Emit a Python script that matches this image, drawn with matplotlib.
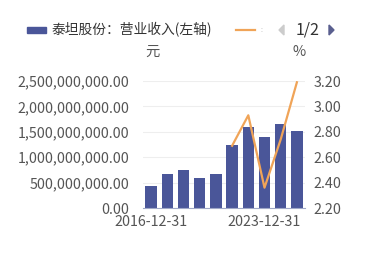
import numpy as np
import matplotlib
matplotlib.use("Agg")
import matplotlib.pyplot as plt
from matplotlib.lines import Line2D
from matplotlib.patches import Rectangle, Polygon
from matplotlib.ticker import FuncFormatter

plt.rcParams['font.family'] = ['Noto Sans CJK SC', 'DejaVu Sans']

# data
dates = ['2016-12-31', '2017-12-31', '2018-12-31', '2019-12-31', '2020-12-31',
         '2021-12-31', '2022-12-31', '2023-12-31', '2024-12-31', '2025-12-31']
revenue = [4.39e8, 6.74e8, 7.40e8, 5.89e8, 6.74e8,
           1.244e9, 1.604e9, 1.401e9, 1.663e9, 1.518e9]
ratio = [np.nan, np.nan, np.nan, np.nan, np.nan,
         2.69, 2.93, 2.36, 2.74, 3.19]
shown_ticks = ['2016-12-31', '2023-12-31']
bar_label = '泰坦股份：营业收入(左轴)'

bar_color = '#4a5699'
line_color = '#f0a458'
text_color = '#555555'
fs = 10.3

fig = plt.figure(figsize=(3.69, 2.76), dpi=100)
ax = fig.add_axes([143 / 369, 1 - 208 / 276, 162 / 369, 127 / 276])
ax2 = ax.twinx()

x = np.arange(len(dates))
ax.bar(x, revenue, width=0.7, color=bar_color, zorder=2)
ax2.plot(x, ratio, color=line_color, lw=1.6, zorder=3)

ax.set_xlim(-0.5, len(dates) - 0.5)
ax.set_ylim(0, 2.5e9)
ax.set_yticks(np.arange(0, 2.5e9 + 1, 5e8))
ax.yaxis.set_major_formatter(FuncFormatter(lambda v, p: '{:,.2f}'.format(v)))
ax2.set_ylim(2.2, 3.2)
ax2.set_yticks(np.arange(2.2, 3.21, 0.2))
ax2.yaxis.set_major_formatter(FuncFormatter(lambda v, p: '{:.2f}'.format(v)))

ax.set_xticks([dates.index(d) for d in shown_ticks])
ax.set_xticklabels(shown_ticks)

ax.grid(axis='y', color='#eeeeee', lw=0.8, zorder=0)
ax.set_axisbelow(True)
for a in (ax, ax2):
    for s in a.spines.values():
        s.set_visible(False)
    a.tick_params(length=0, labelsize=fs, labelcolor=text_color)
ax.spines['bottom'].set_visible(True)
ax.spines['bottom'].set_color('#a0a8c8')
ax.tick_params(axis='y', pad=10)
ax.tick_params(axis='x', pad=5)
ax2.tick_params(axis='y', pad=6)

# legend drawn by hand
fig.patches.append(Rectangle((27 / 369, 1 - 33 / 276), 19 / 369, 6 / 276,
                             transform=fig.transFigure, color=bar_color))
fig.text(51 / 369, 1 - 30 / 276, bar_label, fontsize=9.9, color='#333333', va='center')
fig.lines.append(Line2D([236 / 369, 255 / 369], [1 - 30 / 276, 1 - 30 / 276],
                        transform=fig.transFigure, color=line_color, lw=1.6))
fig.text(260 / 369, 1 - 30 / 276, ':', fontsize=5, color='#bbbbbb', va='center')
fig.patches.append(Polygon([(284 / 369, 1 - 25 / 276), (284 / 369, 1 - 35 / 276),
                            (279 / 369, 1 - 30 / 276)], closed=True,
                           transform=fig.transFigure, color='#cccccc'))
fig.text(308 / 369, 1 - 30 / 276, '1/2', fontsize=11.5, color='#333333',
         va='center', ha='center')
fig.patches.append(Polygon([(329 / 369, 1 - 25 / 276), (329 / 369, 1 - 35 / 276),
                            (334 / 369, 1 - 30 / 276)], closed=True,
                           transform=fig.transFigure, color='#5a5f8f'))

fig.text(152 / 369, 1 - 52 / 276, '元', fontsize=fs, color=text_color, va='center', ha='center')
fig.text(299 / 369, 1 - 52 / 276, '%', fontsize=fs, color=text_color, va='center', ha='center')

fig.savefig('out.png', dpi=100)
